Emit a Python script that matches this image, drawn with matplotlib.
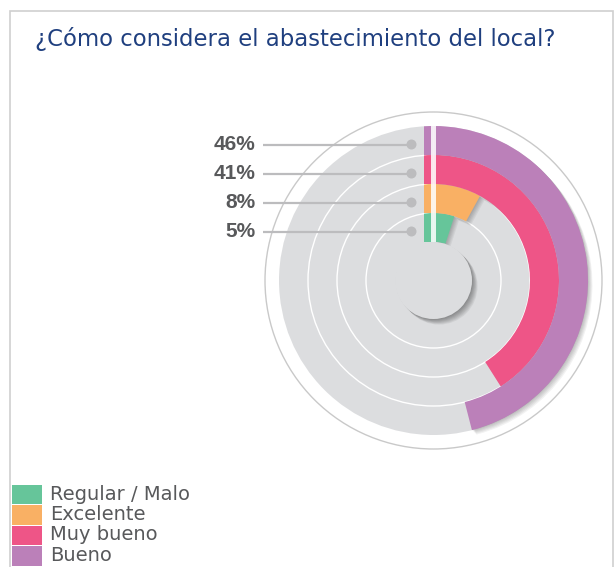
#!/usr/bin/env python3

# Radial bar chart: "¿Cómo considera el abastecimiento del local?"

import matplotlib
matplotlib.use('Agg')
import matplotlib.pyplot as plt
from matplotlib.patches import Wedge, Circle, Rectangle

# data (innermost ring first)
categories = ['Regular / Malo', 'Excelente', 'Muy bueno', 'Bueno']
values = [5, 8, 41, 46]
colors = ['#66c59a', '#f9b064', '#ee5587', '#bb80b9']
label_text = ['5%', '8%', '41%', '46%']

TITLE = '¿Cómo considera el abastecimiento del local?'
GREY = '#dcdddf'
TEXT = '#58595b'
W, H = 615, 567
CX, CY = 433.5, 280.5          # chart centre, pixels from top-left
R_HOLE = 38.5
RING_W = 29.0
R_OUTER = R_HOLE + RING_W * len(values)

fig = plt.figure(figsize=(W / 100, H / 100), dpi=100)
# axis in pixels, origin at chart centre, y up
ax = fig.add_axes([0, 0, 1, 1])
ax.set_xlim(-CX, W - CX)
ax.set_ylim(CY - H, CY)
ax.axis('off')

# frame
ax.add_patch(Rectangle((10 - CX, CY - H - 10), 603, H - 1, fill=False,
                       ec='#cfcfcf', lw=1.2))

# outer thin circle and grey disc
ax.add_patch(Circle((0, 0), 168.5, fc='white', ec='#c9c9c9', lw=1.0))
ax.add_patch(Circle((0, 0), R_OUTER, fc=GREY, ec='none'))
for i in range(1, len(values)):
    ax.add_patch(Circle((0, 0), R_HOLE + RING_W * i, fill=False, ec='white', lw=1.0))

# shadows under the arcs
for i, v in enumerate(values):
    r = R_HOLE + RING_W * (i + 1)
    for k in range(1, 6):
        ax.add_patch(Wedge((k * 0.9, -k * 0.9), r, 90 - v * 3.6, 90, width=RING_W,
                           fc='black', ec='none', alpha=0.05))

# coloured arcs, clockwise from 12 o'clock
for i, (v, c) in enumerate(zip(values, colors)):
    r = R_HOLE + RING_W * (i + 1)
    ax.add_patch(Wedge((0, 0), r, 90 - v * 3.6, 90, width=RING_W, fc=c, ec='none'))
    ring = Wedge((0, 0), r, 90, 180, width=RING_W, transform=ax.transData)
    strip = Rectangle((-9.5, r - RING_W), 9.5, RING_W, fc=c, ec='none')
    ax.add_patch(strip)
    strip.set_clip_path(ring)

# white divider at 12 o'clock
ax.add_patch(Rectangle((-2.3, R_HOLE), 4.6, R_OUTER - R_HOLE, fc='white', ec='none', alpha=0.85))

# centre disc with shadow
for k in range(1, 8):
    ax.add_patch(Circle((k * 0.8, -k * 0.8), R_HOLE, fc='black', ec='none', alpha=0.06))
ax.add_patch(Circle((0, 0), R_HOLE, fc=GREY, ec='none'))

# leader lines and value labels
for i, lab in enumerate(label_text):
    y = R_HOLE + RING_W * (i + 0.5) - 4
    ax.plot([-171, -22], [y, y], color='#bcbcbe', lw=1.6, solid_capstyle='butt')
    ax.add_patch(Circle((-22, y), 5, fc='#bcbcbe', ec='none'))
    ax.text(-178, y, lab, ha='right', va='center', fontsize=15, fontweight='bold',
            color=TEXT, family='Liberation Sans')

# title
fig.text(35 / W, 1 - 39 / H, TITLE, ha='left', va='center', fontsize=16.4,
         color='#1f3f7f', family='DejaVu Sans')

# legend
for i, (cat, c) in enumerate(zip(categories, colors)):
    yc = 494 + i * 20.5
    ax.add_patch(Rectangle((12 - CX, CY - yc - 10), 30, 19.5, fc=c, ec='none'))
    fig.text(50 / W, 1 - yc / H, cat, ha='left', va='center', fontsize=14,
             color=TEXT, family='DejaVu Sans')

fig.savefig('out.png', dpi=100)
